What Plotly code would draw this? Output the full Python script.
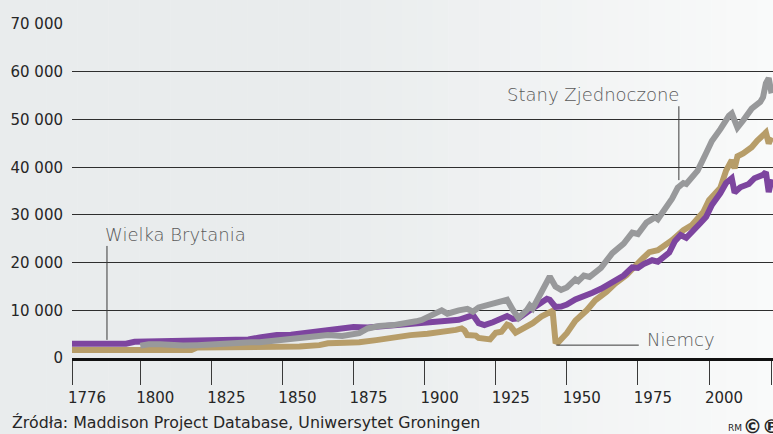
import plotly.graph_objects as go

# ---------------- data ----------------
uk_years = [1776, 1795, 1798, 1805, 1808, 1812, 1818, 1825, 1832, 1838, 1842, 1848, 1853,
            1860, 1865, 1870, 1875, 1880, 1885, 1889, 1895, 1900, 1905, 1908, 1912, 1917,
            1919, 1921, 1924, 1929, 1931, 1933, 1936, 1938, 1941, 1943, 1944, 1946, 1948,
            1950, 1953, 1956, 1959, 1962, 1965, 1970, 1973, 1975, 1977, 1980, 1982, 1986,
            1988, 1990, 1992, 1995, 1997, 1999, 2001, 2004, 2006, 2008, 2009, 2011, 2014,
            2016, 2019, 2020, 2021, 2022]
uk_gdp = [3000, 3000, 3400, 3500, 3350, 3600, 3500, 3700, 3800, 3900, 4300, 4800, 4900,
          5500, 5900, 6100, 6500, 6400, 6700, 6900, 7200, 7600, 7700, 7800, 8000, 9000,
          7300, 6900, 7500, 8800, 8200, 8300, 9600, 10300, 11600, 12400, 12200, 10700, 10800,
          11200, 12300, 12900, 13700, 14500, 15600, 17300, 19000, 18900, 19700, 20500, 20200, 22100,
          24500, 25800, 25200, 26900, 28300, 29600, 32100, 34600, 36700, 37700, 34700, 35800, 36500,
          37700, 38400, 39000, 34800, 37500]

us_years = [1800, 1803, 1807, 1810, 1815, 1820, 1825, 1830, 1835, 1839, 1842, 1848, 1854,
            1860, 1866, 1871, 1877, 1880, 1884, 1889, 1895, 1897, 1899, 1903, 1906, 1908,
            1910, 1912, 1915, 1917, 1919, 1922, 1926, 1929, 1931, 1933, 1936, 1937, 1938,
            1940, 1943, 1944, 1946, 1948, 1950, 1953, 1954, 1956, 1958, 1960, 1962, 1966,
            1970, 1973, 1975, 1978, 1981, 1982, 1985, 1987, 1989, 1991, 1992, 1996, 1999,
            2001, 2004, 2006, 2007, 2008, 2010, 2012, 2015, 2018, 2019, 2020, 2021, 2022]
us_gdp = [2600, 2900, 2900, 2700, 2600, 2700, 2900, 3100, 3400, 3300, 3300, 3700, 3900,
          4400, 4800, 4600, 5200, 6200, 6700, 6900, 7300, 7700, 8000, 9000, 10000, 9300,
          9700, 10000, 10300, 9700, 10600, 11100, 11800, 12200, 10100, 8400, 10100, 11000, 10400,
          12800, 16400, 17100, 15000, 14300, 14800, 16500, 16100, 17300, 17000, 17800, 18900, 22000,
          24000, 26300, 26000, 28400, 29500, 29100, 31600, 33400, 35700, 36700, 36500, 39300, 43000,
          45500, 48000, 50200, 50800, 51300, 48300, 49800, 52300, 53700, 54700, 57600, 58700, 55500]

de_years = [1776, 1818, 1820, 1830, 1842, 1850, 1856, 1863, 1866, 1872, 1877, 1883, 1889,
            1895, 1901, 1906, 1911, 1913, 1914, 1915, 1918, 1919, 1923, 1925, 1927, 1929,
            1930, 1932, 1935, 1938, 1941, 1945, 1946, 1947, 1950, 1953, 1957, 1960, 1964,
            1967, 1971, 1974, 1976, 1979, 1982, 1987, 1991, 1994, 1998, 2000, 2002, 2004,
            2006, 2008, 2009, 2010, 2012, 2015, 2017, 2019, 2020, 2021, 2022]
de_gdp = [1700, 1700, 2200, 2250, 2050, 2300, 2400, 2700, 3100, 3200, 3300, 3750, 4400,
          4800, 5100, 5400, 5900, 6200, 5800, 4800, 4700, 4200, 3900, 5300, 5500, 7000,
          6800, 5300, 6300, 7300, 8700, 9900, 3500, 3300, 5200, 7800, 10000, 12100, 13900,
          15600, 17400, 19500, 20500, 22200, 22600, 24700, 26800, 27900, 30600, 33100, 34200, 35700,
          39300, 41500, 39800, 42300, 42900, 44200, 45600, 46700, 47300, 45000, 46300]

x_ticks = [1776, 1800, 1825, 1850, 1875, 1900, 1925, 1950, 1975, 2000, 2022]
x_tick_labels = ["1776", "1800", "1825", "1850", "1875", "1900", "1925", "1950", "1975", "2000", "2022"]
y_ticks = [0, 10000, 20000, 30000, 40000, 50000, 60000, 70000]
y_tick_labels = ["0", "10 000", "20 000", "30 000", "40 000", "50 000", "60 000", "70 000"]

source_text = "Źródła: Maddison Project Database, Uniwersytet Groningen"

# ---------------- figure ----------------
W, H = 773, 434
ML, MR, MT, MB = 72, 0, 24, 76
plot_w = W - ML - MR

fig = go.Figure()
fig.add_trace(go.Scatter(x=de_years, y=de_gdp, mode="lines", name="Niemcy",
                         line=dict(color="#b79d69", width=6), hoverinfo="skip"))
fig.add_trace(go.Scatter(x=uk_years, y=uk_gdp, mode="lines", name="Wielka Brytania",
                         line=dict(color="#7d459f", width=6), hoverinfo="skip"))
fig.add_trace(go.Scatter(x=us_years, y=us_gdp, mode="lines", name="Stany Zjednoczone",
                         line=dict(color="#98999b", width=6), hoverinfo="skip"))

# background gradient (left grey -> right almost white)
shapes = []
n = 50
for i in range(n):
    px0 = W * i / n
    px1 = W * (i + 1) / n + 0.5
    mid = (px0 + px1) / 2
    t = min(max((mid - 330) / (W - 330), 0), 1)
    r = round(233 + (249 - 233) * t)
    g = round(236 + (250 - 236) * t)
    b = round(237 + (250 - 237) * t)
    shapes.append(dict(type="rect", xref="paper", yref="paper",
                       x0=(px0 - ML) / plot_w, x1=(px1 - ML) / plot_w,
                       y0=-0.3, y1=1.1, fillcolor=f"rgb({r},{g},{b})",
                       line=dict(width=0), layer="below"))

lead = dict(color="#3a3a3a", width=1)
# leader lines for labels
shapes.append(dict(type="line", xref="x", yref="y", x0=1788.3, x1=1788.3, y0=3800, y1=23500, line=lead))
shapes.append(dict(type="line", xref="x", yref="y", x0=1989.4, x1=1989.4, y0=37300, y1=52800, line=lead))
shapes.append(dict(type="line", xref="x", yref="y", x0=1946.3, x1=1975.3, y0=2700, y1=2700, line=lead))

label_font = dict(family="DejaVu Sans", size=18, color="#5a5a5a", weight=200)
annotations = [
    dict(x=1786.9, y=25900, xref="x", yref="y", text="Wielka Brytania", showarrow=False,
         xanchor="left", yanchor="middle", font=label_font),
    dict(x=1990.1, y=55200, xref="x", yref="y", text="Stany Zjednoczone", showarrow=False,
         xanchor="right", yanchor="middle", font=label_font),
    dict(x=1977.5, y=3800, xref="x", yref="y", text="Niemcy", showarrow=False,
         xanchor="left", yanchor="middle", font=label_font),
    dict(x=(10 - ML) / plot_w, y=(358 - 422) / 334, xref="paper", yref="paper",
         text=source_text, showarrow=False, xanchor="left", yanchor="middle",
         font=dict(family="DejaVu Sans", size=15.8, color="#262626")),
    dict(x=(726 - ML) / plot_w, y=(358 - 428) / 334, xref="paper", yref="paper",
         text="RM", showarrow=False, xanchor="left", yanchor="middle",
         font=dict(family="DejaVu Sans", size=9, color="#262626")),
    dict(x=(741 - ML) / plot_w, y=(358 - 426) / 334, xref="paper", yref="paper",
         text="©℗", showarrow=False, xanchor="left", yanchor="middle",
         font=dict(family="DejaVu Sans", size=19, color="#262626", weight="bold")),
]

fig.update_layout(
    width=W, height=H, autosize=False,
    margin=dict(l=ML, r=MR, t=MT, b=MB, pad=0),
    paper_bgcolor="rgba(0,0,0,0)", plot_bgcolor="rgba(0,0,0,0)",
    showlegend=False,
    shapes=shapes,
    annotations=annotations,
    font=dict(family="DejaVu Sans", size=15, color="#262626"),
)
fig.update_xaxes(
    range=[1776, 2022.5], tickvals=x_ticks, ticktext=x_tick_labels,
    showgrid=False, zeroline=False,
    showline=True, linecolor="#111111", linewidth=3,
    ticks="outside", ticklen=24, tickwidth=1, tickcolor="#3a3a3a",
    ticklabelshift=15,
    tickfont=dict(family="DejaVu Sans", size=15, color="#262626"),
)
fig.update_yaxes(
    range=[0, 70050], tickvals=y_ticks, ticktext=y_tick_labels,
    showgrid=True, gridcolor="#2e2e2e", gridwidth=1,
    zeroline=False, showline=False, ticks="",
    ticklabelstandoff=8,
    tickfont=dict(family="DejaVu Sans", size=15, color="#262626"),
)

fig.write_html(
    "out.html",
    config={"displayModeBar": False},
    post_script="document.body.style.margin='0px';document.body.style.overflow='hidden';",
)
